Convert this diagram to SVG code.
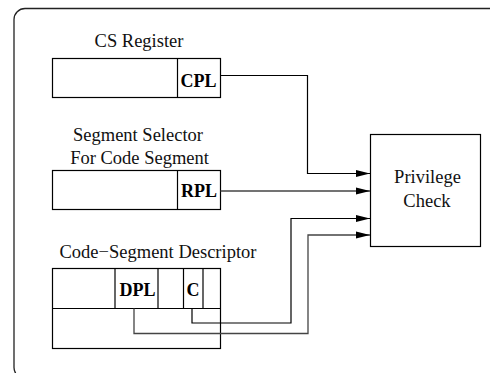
<svg xmlns="http://www.w3.org/2000/svg" width="490" height="373" viewBox="0 0 490 373">
<style>
  .box { fill: none; stroke: #000; stroke-width: 1.2; }
  .frame { fill: none; stroke: #222; stroke-width: 1.3; }
  .lbl { font-family: "Liberation Serif", "Times New Roman", serif; font-size: 18.5px; fill: #111; text-anchor: middle; }
  .fld { font-family: "Liberation Serif", "Times New Roman", serif; font-size: 18px; font-weight: bold; fill: #000; text-anchor: middle; }
  .conn { fill: none; stroke: #000; stroke-width: 1.2; }
  .conn2 { fill: none; stroke: #444; stroke-width: 1.3; }
</style>
<defs>
  <marker id="arrow" markerUnits="userSpaceOnUse" viewBox="0 0 14 8" refX="14" refY="4" markerWidth="14" markerHeight="8" orient="auto">
    <path d="M0,0.5 L14,4 L0,7.5 Z" fill="#000"/>
  </marker>
</defs>
<rect width="490" height="373" fill="#fff"/>
<g id="frame">
  <rect class="frame" x="14" y="8.5" width="500" height="370" rx="11" ry="11"/>
</g>
<g id="cs-register">
  <text class="lbl" x="139" y="47">CS Register</text>
  <rect class="box" x="52.5" y="58.5" width="168" height="39"/>
  <line class="box" x1="177.5" y1="58.5" x2="177.5" y2="97.5"/>
  <text class="fld" x="198.5" y="87">CPL</text>
</g>
<g id="segment-selector">
  <text class="lbl" x="138" y="141">Segment Selector</text>
  <text class="lbl" x="139.5" y="164">For Code Segment</text>
  <rect class="box" x="52.5" y="170.5" width="168" height="39"/>
  <line class="box" x1="177.5" y1="170.5" x2="177.5" y2="209.5"/>
  <text class="fld" x="199" y="197">RPL</text>
</g>
<g id="code-segment-descriptor">
  <text class="lbl" x="158" y="258">Code−Segment Descriptor</text>
  <rect class="box" x="52.5" y="268.5" width="168" height="80"/>
  <line class="box" x1="52.5" y1="308.5" x2="220.5" y2="308.5"/>
  <line class="box" x1="115" y1="268.5" x2="115" y2="308.5"/>
  <line class="box" x1="158" y1="268.5" x2="158" y2="308.5"/>
  <line class="box" x1="183.5" y1="268.5" x2="183.5" y2="308.5"/>
  <line class="box" x1="203" y1="268.5" x2="203" y2="308.5"/>
  <text class="fld" x="137.5" y="296">DPL</text>
  <text class="fld" x="193" y="296">C</text>
</g>
<g id="privilege-check">
  <rect class="box" x="370.5" y="134.5" width="110" height="112"/>
  <text class="lbl" x="427.5" y="183">Privilege</text>
  <text class="lbl" x="427" y="207">Check</text>
</g>
<g id="connectors">
  <polyline class="conn" points="220.5,75.5 307.5,75.5 307.5,173.5 370,173.5" marker-end="url(#arrow)"/>
  <polyline class="conn2" points="220.5,191 370,191" marker-end="url(#arrow)"/>
  <polyline class="conn" points="192,308.5 192,323 291,323 291,218.5 370,218.5" marker-end="url(#arrow)"/>
  <polyline class="conn2" points="134,308.5 134,333.5 308,333.5 308,235 370,235" marker-end="url(#arrow)"/>
</g>
</svg>
